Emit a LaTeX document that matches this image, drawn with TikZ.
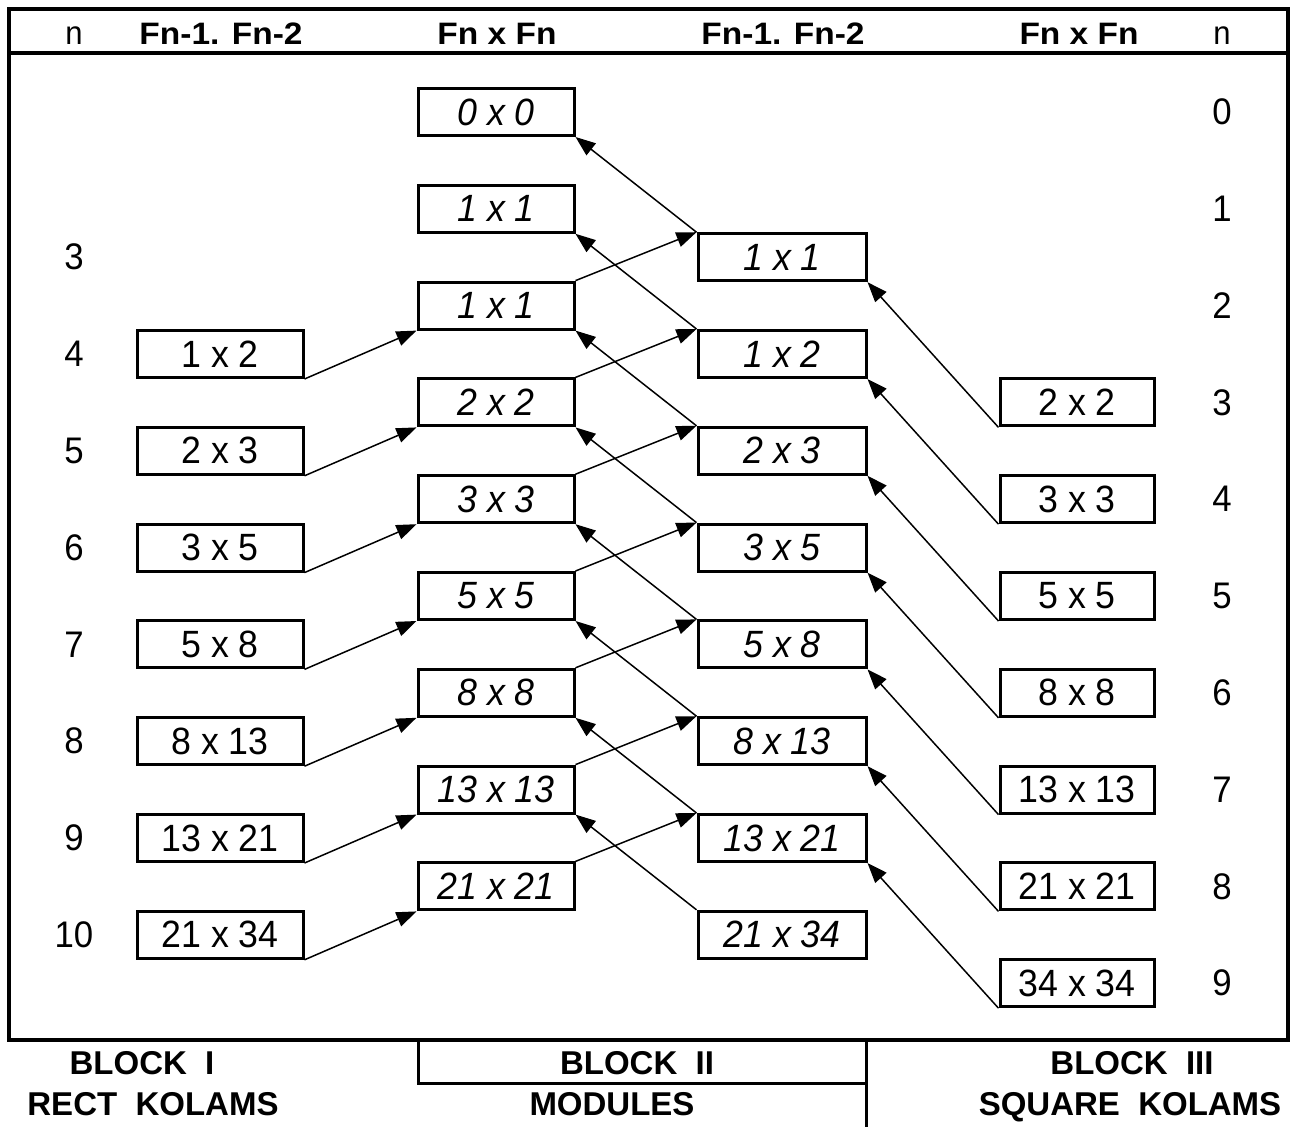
\documentclass[tikz,border=0pt]{standalone}
\usepackage{fontspec}
\setmainfont{Liberation Sans}
\newfontfamily\boxfont[FakeStretch=0.94]{Liberation Sans}
\newfontfamily\headfont[FakeStretch=1.08]{Liberation Sans}
\usetikzlibrary{arrows.meta}
\begin{document}
\begin{tikzpicture}[x=1pt,y=-1pt,
  boxnode/.style={draw,line width=3pt,minimum height=47pt,inner sep=0pt,font=\boxfont\fontsize{38}{40}\selectfont},
  itbox/.style={boxnode,font=\boxfont\fontsize{38}{40}\selectfont\itshape},
  numlab/.style={font=\boxfont\fontsize{37}{40}\selectfont},
  headlab/.style={font=\headfont\fontsize{31}{40}\selectfont\bfseries,text height=22pt,text depth=0pt,inner sep=0pt},
  headn/.style={font=\boxfont\fontsize{33}{40}\selectfont,text height=23pt,text depth=0pt,inner sep=0pt},
  foot/.style={font=\fontsize{33}{40}\selectfont\bfseries,text height=23.6pt,text depth=0pt,inner sep=0pt},
  conn/.style={line width=1.5pt,-{Triangle[length=20pt,width=15pt]}},
  frame/.style={line width=3.5pt}]
\useasboundingbox (0,0) rectangle (1305,1127);
% frame
\draw[frame] (9,9) rectangle (1288,1040);
\draw[frame] (9,53) -- (1288,53);
% header
\node[headn] (hn1) at (74,33) {n};
\node[headlab] (h1) at (221,33) {Fn-1. Fn-2};
\node[headlab] (h2) at (497,33) {Fn x Fn};
\node[headlab] (h3) at (783,33) {Fn-1. Fn-2};
\node[headlab] (h4) at (1079,33) {Fn x Fn};
\node[headn] (hn2) at (1222,33) {n};
% left n labels
\foreach \h/\t in {3/3,5/4,7/5,9/6,11/7,13/8,15/9,17/10}
  \node[numlab] (ln\h) at (74,{112+48.4*\h}) {\t};
% right n labels
\foreach \i in {0,...,9}
  \node[numlab] (rn\i) at (1222,{112+96.8*\i}) {\i};
% column 1
\foreach \h/\t in {5/1 x 2,7/2 x 3,9/3 x 5,11/5 x 8,13/8 x 13,15/13 x 21,17/21 x 34}
  \node[boxnode,minimum width=166pt] (a\h) at (220,{112+48.4*\h}) {\t};
% column 2
\foreach \h/\t in {0/0 x 0,2/1 x 1,4/1 x 1,6/2 x 2,8/3 x 3,10/5 x 5,12/8 x 8,14/13 x 13,16/21 x 21}
  \node[itbox,minimum width=156pt] (b\h) at (496,{112+48.4*\h}) {\t};
% column 3
\foreach \h/\t in {3/1 x 1,5/1 x 2,7/2 x 3,9/3 x 5,11/5 x 8,13/8 x 13,15/13 x 21,17/21 x 34}
  \node[itbox,minimum width=168pt] (c\h) at (782,{112+48.4*\h}) {\t};
% column 4
\foreach \h/\t in {6/2 x 2,8/3 x 3,10/5 x 5,12/8 x 8,14/13 x 13,16/21 x 21,18/34 x 34}
  \node[boxnode,minimum width=154pt] (d\h) at (1077,{112+48.4*\h}) {\t};
% connectors
\foreach \h [evaluate=\h as \k using int(\h-1)] in {5,7,9,11,13,15,17}
  \draw[conn] (a\h.south east) -- (b\k.south west);
\foreach \h [evaluate=\h as \k using int(\h-1)] in {4,6,8,10,12,14,16}
  \draw[conn] (b\h.north east) -- (c\k.north west);
\foreach \h [evaluate=\h as \k using int(\h-3)] in {3,5,7,9,11,13,15,17}
  \draw[conn] (c\h.north west) -- (b\k.south east);
\foreach \h [evaluate=\h as \k using int(\h-3)] in {6,8,10,12,14,16,18}
  \draw[conn] (d\h.south west) -- (c\k.south east);
% footer
\coordinate (f1) at (418,1040);
\coordinate (f2) at (418,1083);
\coordinate (f3) at (866,1083);
\coordinate (f4) at (866,1040);
\coordinate (f5) at (866,1127);
\draw[line width=3pt] (f1) -- (f2) -- (f3);
\draw[line width=3pt] (f4) -- (f5);
\node[foot] (bl1) at (142,1063) {BLOCK\ \ I};
\node[foot] (bl1b) at (153,1104) {RECT\ \ KOLAMS};
\node[foot] (bl2) at (637,1063) {BLOCK\ \ II};
\node[foot] (bl2b) at (612,1104) {MODULES};
\node[foot] (bl3) at (1132,1063) {BLOCK\ \ III};
\node[foot] (bl3b) at (1130,1104) {SQUARE\ \ KOLAMS};
\end{tikzpicture}
\end{document}
